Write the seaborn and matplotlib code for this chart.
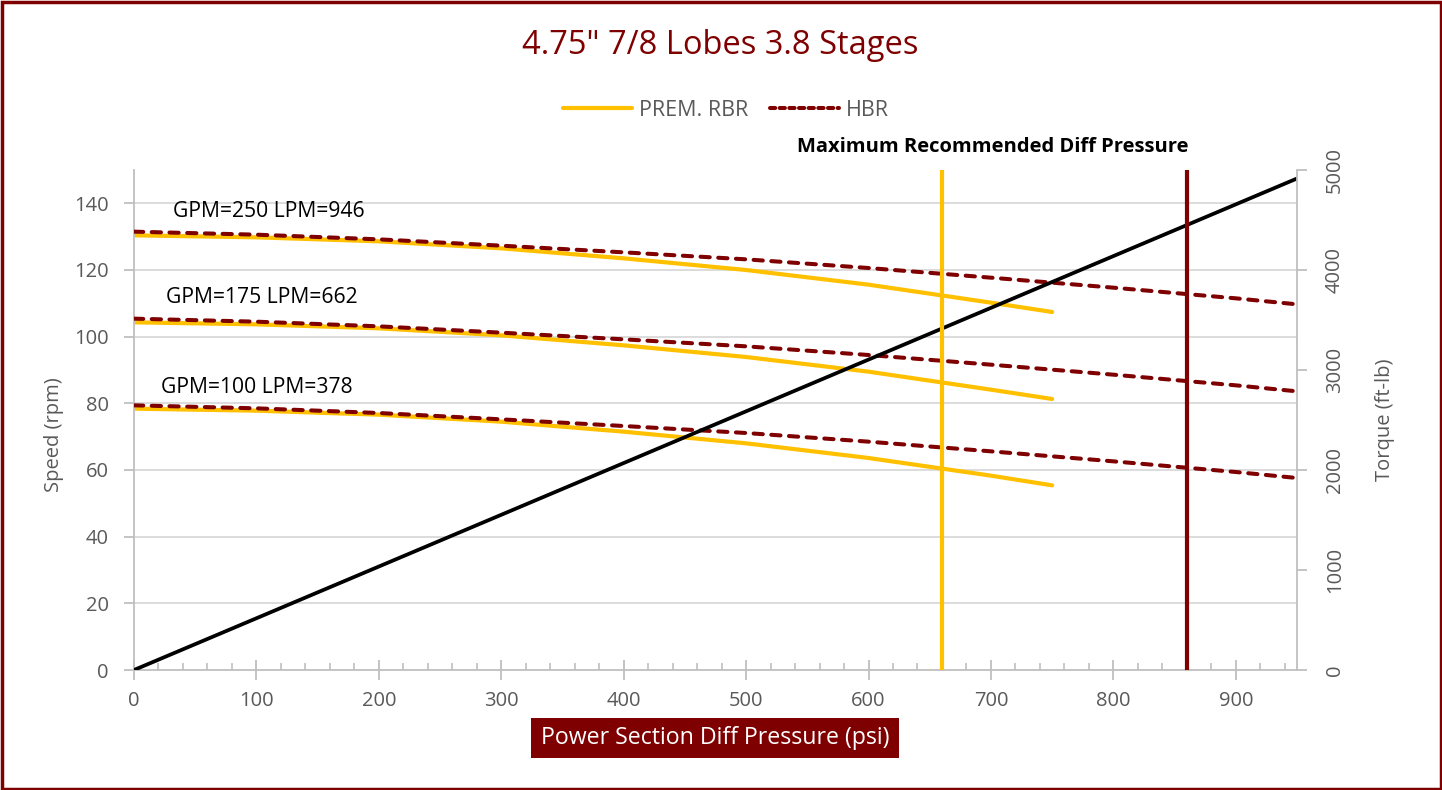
import matplotlib
matplotlib.use("Agg")
import matplotlib.pyplot as plt
import seaborn as sns
import pandas as pd
from matplotlib.lines import Line2D
from matplotlib.patches import Rectangle
from matplotlib.ticker import MultipleLocator

# ---------------- data ----------------
title = '4.75" 7/8 Lobes 3.8 Stages'
flow_labels = ["GPM=250 LPM=946", "GPM=175 LPM=662", "GPM=100 LPM=378"]

pressure_rbr = [0, 100, 200, 300, 400, 500, 600, 700, 750]
rbr_250 = [130.4, 129.8, 128.6, 126.5, 123.5, 120.0, 115.6, 110.2, 107.4]
rbr_175 = [104.3, 103.7, 102.5, 100.4, 97.4, 93.9, 89.5, 84.1, 81.3]
rbr_100 = [78.4, 77.8, 76.6, 74.5, 71.5, 68.0, 63.6, 58.3, 55.4]

pressure_hbr = [0, 100, 200, 300, 400, 500, 600, 700, 800, 900, 950]
hbr_250 = [131.5, 130.6, 129.2, 127.3, 125.3, 123.2, 120.6, 117.7, 114.7, 111.5, 109.7]
hbr_175 = [105.4, 104.5, 103.1, 101.2, 99.2, 97.1, 94.5, 91.6, 88.6, 85.4, 83.6]
hbr_100 = [79.4, 78.5, 77.1, 75.2, 73.2, 71.1, 68.5, 65.6, 62.6, 59.4, 57.6]

torque_pressure = [0, 950]
torque_values = [0, 4915]

max_rbr_pressure = 660
max_hbr_pressure = 860

label_x = [110, 104, 100]
label_y = [137.6, 111.8, 84.8]

x_ticks = [0, 100, 200, 300, 400, 500, 600, 700, 800, 900]
speed_ticks = [0, 20, 40, 60, 80, 100, 120, 140]
torque_ticks = [0, 1000, 2000, 3000, 4000, 5000]

# ---------------- tables ----------------
rows = []
for name, vals in zip(flow_labels, [rbr_250, rbr_175, rbr_100]):
    for p, v in zip(pressure_rbr, vals):
        rows.append({"pressure": p, "speed": v, "flow": name, "rotor": "PREM. RBR"})
for name, vals in zip(flow_labels, [hbr_250, hbr_175, hbr_100]):
    for p, v in zip(pressure_hbr, vals):
        rows.append({"pressure": p, "speed": v, "flow": name, "rotor": "HBR"})
df = pd.DataFrame(rows)
df_torque = pd.DataFrame({"pressure": torque_pressure, "torque": torque_values})

# ---------------- style ----------------
sns.set_theme(style="white")
plt.rcParams["font.family"] = ["Open Sans", "DejaVu Sans"]

MAROON = "#7F0000"
YELLOW = "#FFC000"
GREY_TXT = "#595959"
GRID = "#D9D9D9"
AXIS = "#BFBFBF"

fig = plt.figure(figsize=(14.42, 7.90), dpi=100)
ax = fig.add_axes([134 / 1442, 1 - 670 / 790, (1297 - 134) / 1442, (670 - 170) / 790])

# grid lines
for yv in speed_ticks[1:]:
    ax.axhline(yv, color=GRID, lw=1.3, zorder=0)

sns.lineplot(data=df[df.rotor == "PREM. RBR"], x="pressure", y="speed", units="flow",
             estimator=None, color=YELLOW, lw=3.0, legend=False, ax=ax, zorder=2)
n_before = len(ax.lines)
sns.lineplot(data=df[df.rotor == "HBR"], x="pressure", y="speed", units="flow",
             estimator=None, color=MAROON, lw=2.9, legend=False, ax=ax, zorder=3)
for ln in ax.lines[n_before:]:
    ln.set_dashes((2.3, 2.1))
    ln.set_dash_capstyle("round")

ax.set_xlim(0, 950)
ax.set_ylim(0, 150)
ax.set_xticks(x_ticks)
ax.xaxis.set_minor_locator(MultipleLocator(20))
ax.set_yticks(speed_ticks)
ax.set_xlabel("")
ax.set_ylabel("Speed (rpm)", color=GREY_TXT, fontsize=14.5)
ax.yaxis.set_label_coords(-0.06, 0.47)

for s in ["top", "right"]:
    ax.spines[s].set_visible(False)
for s in ["left", "bottom"]:
    ax.spines[s].set_color(AXIS)
    ax.spines[s].set_linewidth(1.3)

ax.tick_params(axis="x", which="major", direction="inout", length=14, width=1.3,
               color=AXIS, labelcolor=GREY_TXT, labelsize=14.5, pad=8, bottom=True)
ax.tick_params(axis="x", which="minor", direction="in", length=5, width=1.2,
               color=AXIS, bottom=True)
ax.tick_params(axis="y", which="major", direction="out", length=7, width=1.3,
               color=AXIS, labelcolor=GREY_TXT, labelsize=14.5, pad=11, left=True)

for txt, xv, yv in zip(flow_labels, label_x, label_y):
    ax.text(xv, yv, txt, ha="center", va="center", fontsize=15.2, color="black", zorder=5)

# secondary axis: torque
ax2 = ax.twinx()
sns.lineplot(data=df_torque, x="pressure", y="torque", color="black", lw=2.7,
             legend=False, ax=ax2, zorder=2)
ax2.axvline(max_rbr_pressure, color=YELLOW, lw=3.0, zorder=4)
ax2.axvline(max_hbr_pressure, color=MAROON, lw=3.0, zorder=4)
ax2.set_ylim(0, 5000)
ax2.set_xlim(0, 950)
ax2.set_yticks(torque_ticks)
ax2.set_xlabel("")
ax2.set_ylabel("Torque (ft-lb)", color=GREY_TXT, fontsize=14.5)
ax2.yaxis.set_label_coords(1.067, 0.5)
ax2.grid(False)
for s in ["top", "left", "bottom"]:
    ax2.spines[s].set_visible(False)
ax2.spines["right"].set_color(AXIS)
ax2.spines["right"].set_linewidth(1.3)
ax2.tick_params(axis="y", direction="out", length=7, width=1.3, color=AXIS,
                labelcolor=GREY_TXT, labelsize=14.5, pad=13, right=True,
                labelrotation=90)
for lab in ax2.get_yticklabels():
    lab.set_va("center")

ax2.text(993 / 1442, 1 - 147 / 790, "Maximum Recommended Diff Pressure",
         transform=fig.transFigure, ha="center", va="center",
         fontsize=14.5, fontweight="bold", color="black")

# title
fig.text(720 / 1442, 1 - 46 / 790, title, ha="center", va="center",
         fontsize=23.5, color=MAROON)

# legend
handles = [Line2D([0], [0], color=YELLOW, lw=3.0),
           Line2D([0], [0], color=MAROON, lw=2.9, dashes=(1.3, 1.1),
                  dash_capstyle="round")]
fig.legend(handles, ["PREM. RBR", "HBR"], loc="center", bbox_to_anchor=(726 / 1442, 1 - 110 / 790),
           ncol=2, frameon=False, fontsize=15.5, labelcolor=GREY_TXT,
           handlelength=3.2, handletextpad=0.35, columnspacing=1.0)

# x axis label box
fig.patches.append(Rectangle((531 / 1442, 1 - 758 / 790), 368 / 1442, 40 / 790,
                             transform=fig.transFigure, facecolor=MAROON,
                             edgecolor="none", zorder=1))
fig.text(715 / 1442, 1 - 738 / 790, "Power Section Diff Pressure (psi)",
         ha="center", va="center", fontsize=16.7, color="white", zorder=2)

# outer border
fig.patches.append(Rectangle((1.5 / 1442, 1.5 / 790), 1 - 3 / 1442, 1 - 3 / 790,
                             transform=fig.transFigure, facecolor="none",
                             edgecolor=MAROON, lw=2.5, zorder=10))

fig.savefig("out.png", dpi=100)
